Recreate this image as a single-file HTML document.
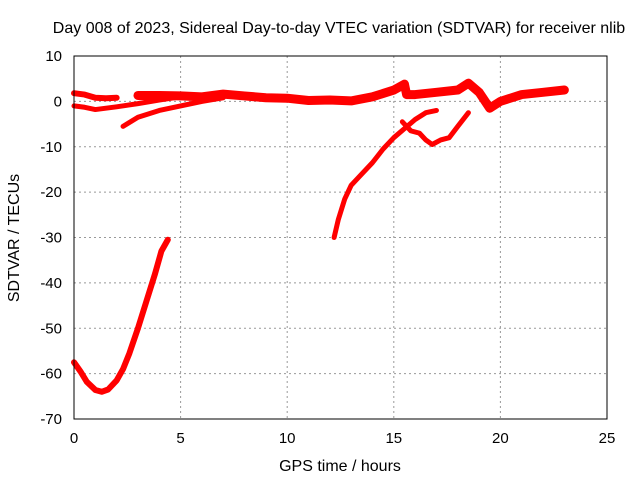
<!DOCTYPE html>
<html><head><meta charset="utf-8"><style>
body{margin:0;background:#fff}
svg text{font-family:"Liberation Sans",sans-serif;font-size:15px;fill:#000}
svg text.big{font-size:16px}
</style></head><body>
<svg id="chart" width="640" height="480" xmlns="http://www.w3.org/2000/svg">
<text class="big" x="339" y="33" text-anchor="middle">Day 008 of 2023, Sidereal Day-to-day VTEC variation (SDTVAR) for receiver nlib</text>
<g id="grid"></g>
<g id="series"></g>
<rect x="74" y="56" width="533" height="363" fill="none" stroke="#000" stroke-width="1"/>
<g id="ticks"></g>
<text class="big" x="340" y="471" text-anchor="middle">GPS time / hours</text>
<text class="big" transform="translate(19,238) rotate(-90)" text-anchor="middle">SDTVAR / TECUs</text>
</svg>
<script>
const xTicks=[0,5,10,15,20,25];
const yTicks=[-70,-60,-50,-40,-30,-20,-10,0,10];
const seriesBottomX=[0,0.3,0.6,1,1.3,1.6,2,2.3,2.6,3,3.4,3.8,4.1,4.4];
const seriesBottomY=[-57.5,-59.5,-61.8,-63.6,-64,-63.5,-61.5,-59,-55.5,-50,-44,-38,-33,-30.5];
const seriesRiseX=[12.2,12.4,12.7,13,13.5,14,14.5,15,15.5,16,16.5,17];
const seriesRiseY=[-30,-26,-21.5,-18.5,-16,-13.5,-10.5,-8,-6,-4,-2.5,-2];
const seriesZigX=[15.4,15.8,16.2,16.5,16.8,17.2,17.6,18,18.5];
const seriesZigY=[-4.5,-6.5,-7,-8.5,-9.5,-8.5,-8,-5.5,-2.5];
const seriesUpperX=[0,0.5,1,1.5,2];
const seriesUpperY=[1.8,1.5,0.8,0.7,0.8];
const seriesLowerX=[0,0.5,1,2,3,4,5];
const seriesLowerY=[-1,-1.3,-1.8,-1.2,-0.5,0.3,1];
const seriesLowX=[2.3,3,4,5,6,7];
const seriesLowY=[-5.5,-3.5,-2,-1,0,0.8];
const seriesMainX=[3,4,5,6,7,8,9,10,11,12,13,14,15,15.5,15.6,16,17,18,18.5,19,19.5,20,21,22,23];
const seriesMainY=[1.3,1.3,1.2,1,1.6,1.2,0.8,0.7,0.2,0.3,0.1,1,2.5,3.8,1.5,1.5,2,2.5,4,2,-1.5,0,1.5,2,2.5];
const X=v=>74+(v/25)*533;
const Y=v=>56+(10-v)/80*363;
const NS="http://www.w3.org/2000/svg";
const g=document.getElementById('grid'),t=document.getElementById('ticks'),s=document.getElementById('series');
function mk(tag,attrs,parent){const e=document.createElementNS(NS,tag);for(const k in attrs)e.setAttribute(k,attrs[k]);parent.appendChild(e);return e;}
xTicks.forEach(v=>{
  const l=mk('line',{x1:X(v),x2:X(v),y1:56,y2:419,stroke:'#999','stroke-dasharray':'2,3'},g);
  
  
  const tx=mk('text',{x:X(v),y:443,'text-anchor':'middle'},t);tx.textContent=v;
  
  
});
yTicks.forEach(v=>{
  const l=mk('line',{x1:74,x2:607,y1:Y(v),y2:Y(v),stroke:'#999','stroke-dasharray':'2,3'},g);
  
  
  const tx=mk('text',{x:62,y:Y(v)+5,'text-anchor':'end'},t);tx.textContent=v;
  
  
});
function draw(xs,ys,w,name){
  const p=mk('polyline',{points:xs.map((x,i)=>X(x)+','+Y(ys[i])).join(' '),fill:'none',stroke:'#f00','stroke-width':w,'stroke-linejoin':'round','stroke-linecap':'round'},s);
  
  
}
draw(seriesBottomX,seriesBottomY,6,'series-bottom-curve');
draw(seriesRiseX,seriesRiseY,5,'series-rise');
draw(seriesZigX,seriesZigY,5,'series-zigzag');
draw(seriesUpperX,seriesUpperY,6,'series-upper-start');
draw(seriesLowerX,seriesLowerY,5,'series-lower-start');
draw(seriesLowX,seriesLowY,5,'series-low-start');
draw(seriesMainX,seriesMainY,9,'series-main-band');
</script>
</body></html>
